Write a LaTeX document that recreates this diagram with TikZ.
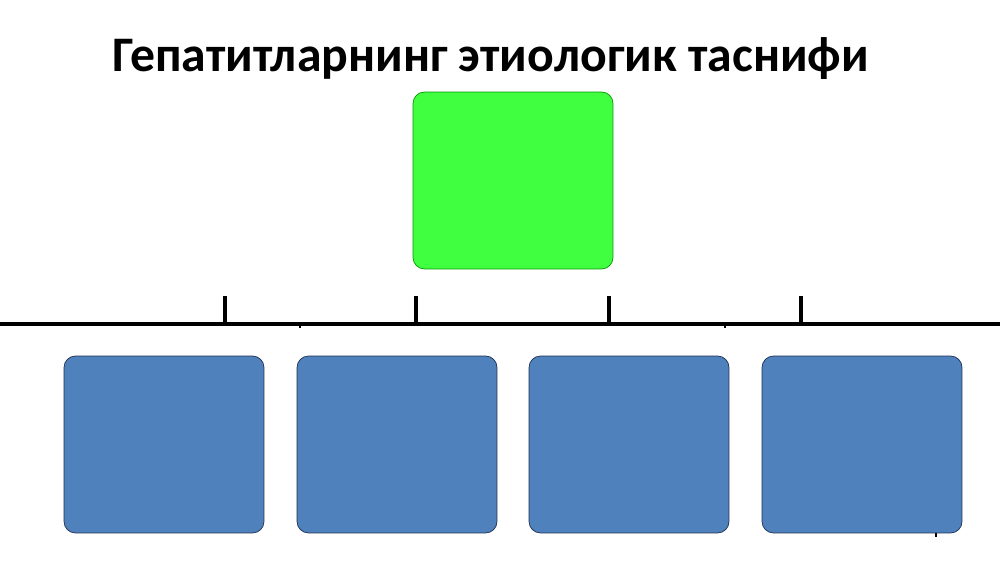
\documentclass[tikz,border=0pt]{standalone}
\usepackage{fontspec}
\setmainfont{Carlito}
\usetikzlibrary{positioning}

\definecolor{rootgreen}{HTML}{40FF40}
\definecolor{leafblue}{HTML}{4F81BD}
\definecolor{leafedge}{HTML}{1F2F4F}

\begin{document}
\begin{tikzpicture}[
        x = 0.02cm, y = -0.02cm,
        line join=round,
        rootbox/.style = {draw=green!60!black, thin, fill=rootgreen, rounded corners=6.5pt,
                          minimum width=4cm, minimum height=3.54cm},
        leafbox/.style = {draw=leafedge, thin, fill=leafblue, rounded corners=6.5pt,
                          minimum width=4cm, minimum height=3.54cm},
        bus/.style = {line width=1.9pt}
    ]

    \useasboundingbox (0,0) rectangle (1000,563);

    \node[font=\bfseries\fontsize{28.3}{34}\selectfont] (title) at (491,59)
        {Гепатитларнинг этиологик таснифи};

    \node[rootbox] (root) at (513,180.5) {};

    \foreach \i/\x in {1/164, 2/397, 3/629, 4/862} {
        \node[leafbox] (leaf\i) at (\x,444.5) {};
    }

        \coordinate (busL) at (0,324);
        \coordinate (busR) at (1000,324);

    \draw[bus] (busL) -- (busR);

    % upward ticks on the bus
    \foreach \x in {225, 416, 609, 801} {
        \draw[bus] (\x,324) --++ (0,-28);
    }

    % small notches under the bus
    \foreach \x in {300, 725} {
        \draw[line width=1pt] (\x,324) --++ (0,4);
    }
    \draw[line width=1.2pt] (leaf4.south east) ++ (-26,0) --++ (0,4);

\end{tikzpicture}
\end{document}
